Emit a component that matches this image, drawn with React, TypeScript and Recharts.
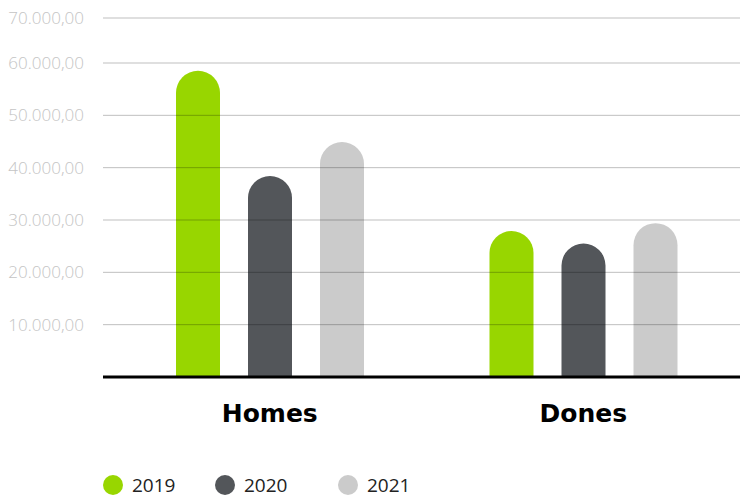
import React from "react"
import { Bar, BarChart, XAxis, YAxis, Legend, ReferenceLine } from "recharts"

const categories = ["Homes", "Dones"]
const values2019 = [58500, 27900]
const values2020 = [38400, 25500]
const values2021 = [44900, 29400]
const yTicks = [10000, 20000, 30000, 40000, 50000, 60000, 68600]
const yTickLabels = ["10.000,00", "20.000,00", "30.000,00", "40.000,00", "50.000,00", "60.000,00", "70.000,00"]

const series = [
  { key: "y2019", name: "2019", color: "#98d600", width: 112 },
  { key: "y2020", name: "2020", color: "#53565a", width: 123 },
  { key: "y2021", name: "2021", color: "#cbcbcb", width: 80 },
]

const data = categories.map((name, i) => ({
  name,
  y2019: values2019[i],
  y2020: values2020[i],
  y2021: values2021[i],
}))

const LegendContent = () => (
  <div style={{ height: 61, display: "flex", alignItems: "flex-end", paddingLeft: 103, paddingBottom: 1, boxSizing: "border-box" }}>
    {series.map((s) => (
      <div key={s.key} style={{ display: "flex", alignItems: "center", width: s.width }}>
        <span style={{ width: 20, height: 20, borderRadius: 10, background: s.color, display: "inline-block", marginRight: 9 }} />
        <span style={{ fontFamily: "'Open Sans', sans-serif", fontSize: 19, color: "#222", lineHeight: "24px" }}>{s.name}</span>
      </div>
    ))}
  </div>
)

export default function App() {
  return (
    <div style={{ position: "absolute", left: 0, top: 0 }}>
      <BarChart width={740} height={498} data={data} margin={{ top: 18, right: 0, bottom: 0, left: 0 }} barSize={44} barGap={28}>
        <XAxis
          dataKey="name"
          height={60}
          tickLine={false}
          tickMargin={21}
          padding={{ left: 10, right: 0 }}
          axisLine={{ stroke: "#000", strokeWidth: 3 }}
          tick={{ fontFamily: "'DejaVu Sans', sans-serif", fontWeight: 700, fontSize: 25, fill: "#000" }}
        />
        <YAxis
          width={103}
          domain={[0, 68600]}
          ticks={yTicks}
          axisLine={false}
          tickLine={false}
          tickMargin={13}
          tickFormatter={(v: number) => yTickLabels[yTicks.indexOf(v)]}
          tick={{ fontFamily: "'Open Sans', sans-serif", fontWeight: 300, fontSize: 17, fill: "#c4c4c4" }}
        />
        {series.map((s) => (
          <Bar key={s.key} dataKey={s.key} name={s.name} fill={s.color} radius={[22, 22, 0, 0]} isAnimationActive={false} />
        ))}
        {yTicks.map((t) => (
          <ReferenceLine key={t} y={t} stroke="rgba(0,0,0,0.25)" strokeWidth={1} />
        ))}
        <Legend verticalAlign="bottom" content={<LegendContent />} wrapperStyle={{ left: 0, width: 740 }} />
      </BarChart>
    </div>
  )
}
